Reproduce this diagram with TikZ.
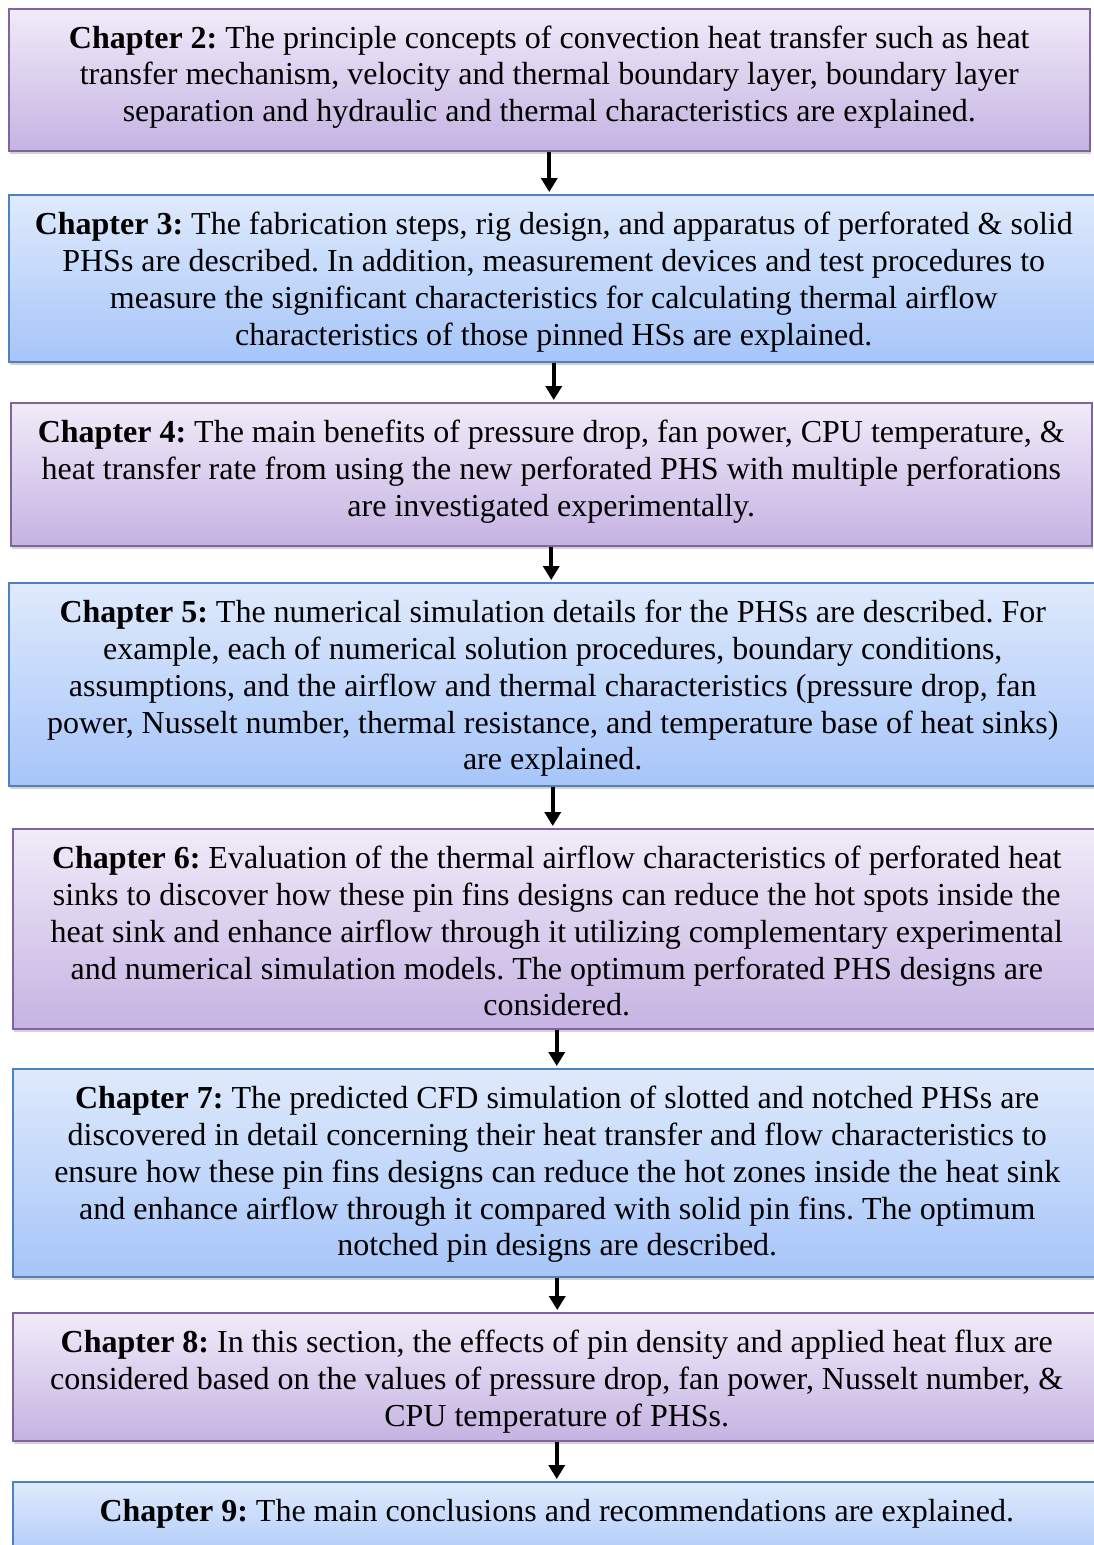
\documentclass[tikz,border=0pt]{standalone}
\usepackage{fontspec}
\setmainfont{Liberation Serif}
\usetikzlibrary{shadows,arrows.meta,calc}
\definecolor{purpletop}{RGB}{241,235,249}
\definecolor{purplebot}{RGB}{197,179,226}
\definecolor{purpleborder}{RGB}{128,100,162}
\definecolor{bluetop}{RGB}{223,234,252}
\definecolor{bluebot}{RGB}{166,197,249}
\definecolor{blueborder}{RGB}{79,129,189}
\frenchspacing
\begin{document}
\begin{tikzpicture}[x=1pt,y=1pt,
  chbox/.style={rectangle, line width=1.5pt, align=center, inner xsep=0pt, inner ysep=0pt,
    anchor=north west, font=\fontsize{32}{36.8}\selectfont\frenchspacing,
    drop shadow={shadow xshift=1.5pt, shadow yshift=-3.5pt, opacity=0.35}},
  purplebox/.style={chbox, draw=purpleborder, top color=purpletop, bottom color=purplebot},
  bluebox/.style={chbox, draw=blueborder, top color=bluetop, bottom color=bluebot},
  arr/.style={line width=4pt, -{Triangle[width=16pt,length=14pt]}, shorten >=2pt}]
\useasboundingbox (0,0) rectangle (1094,-1545);
\clip (0,0) rectangle (1094,-1545);

\node[purplebox, minimum width=1081pt, text height=113pt, text depth=29pt] (c2) at (8,-8)
{\textbf{Chapter 2:} The principle concepts of convection heat transfer such as heat\\
transfer mechanism, velocity and thermal boundary layer, boundary layer\\
separation and hydraulic and thermal characteristics are explained.};

\node[bluebox, minimum width=1090pt, text height=150.4pt, text depth=16.6pt] (c3) at (8,-194)
{\textbf{Chapter 3:} The fabrication steps, rig design, and apparatus of perforated \& solid\\
PHSs are described. In addition, measurement devices and test procedures to\\
measure the significant characteristics for calculating thermal airflow\\
characteristics of those pinned HSs are explained.};

\node[purplebox, minimum width=1081pt, text height=113.6pt, text depth=29.4pt] (c4) at (10,-402)
{\textbf{Chapter 4:} The main benefits of pressure drop, fan power, CPU temperature, \&\\
heat transfer rate from using the new perforated PHS with multiple perforations\\
are investigated experimentally.};

\node[bluebox, minimum width=1088pt, text height=187.2pt, text depth=15.8pt] (c5) at (8,-582)
{\textbf{Chapter 5:} The numerical simulation details for the PHSs are described. For\\
example, each of numerical solution procedures, boundary conditions,\\
assumptions, and the airflow and thermal characteristics (pressure drop, fan\\
power, Nusselt number, thermal resistance, and temperature base of heat sinks)\\
are explained.};

\node[purplebox, minimum width=1088pt, text height=187.2pt, text depth=12.8pt] (c6) at (12,-828)
{\textbf{Chapter 6:} Evaluation of the thermal airflow characteristics of perforated heat\\
sinks to discover how these pin fins designs can reduce the hot spots inside the\\
heat sink and enhance airflow through it utilizing complementary experimental\\
and numerical simulation models. The optimum perforated PHS designs are\\
considered.};

\node[bluebox, minimum width=1089pt, text height=187.2pt, text depth=20.8pt] (c7) at (12,-1068)
{\textbf{Chapter 7:} The predicted CFD simulation of slotted and notched PHSs are\\
discovered in detail concerning their heat transfer and flow characteristics to\\
ensure how these pin fins designs can reduce the hot zones inside the heat sink\\
and enhance airflow through it compared with solid pin fins. The optimum\\
notched pin designs are described.};

\node[purplebox, minimum width=1088pt, text height=113.6pt, text depth=14.4pt] (c8) at (12,-1312)
{\textbf{Chapter 8:} In this section, the effects of pin density and applied heat flux are\\
considered based on the values of pressure drop, fan power, Nusselt number, \&\\
CPU temperature of PHSs.};

\node[bluebox, minimum width=1088pt, text height=40pt, text depth=50pt] (c9) at (12,-1481)
{\textbf{Chapter 9:} The main conclusions and recommendations are explained.};

\draw[arr] (c2.south) -- (c2.south |- c3.north);
\draw[arr] (c3.south) -- (c3.south |- c4.north);
\draw[arr] (c4.south) -- (c4.south |- c5.north);
\draw[arr] (c5.south) -- (c5.south |- c6.north);
\draw[arr] (c6.south) -- (c6.south |- c7.north);
\draw[arr] (c7.south) -- (c7.south |- c8.north);
\draw[arr] (c8.south) -- (c8.south |- c9.north);
\end{tikzpicture}
\end{document}
